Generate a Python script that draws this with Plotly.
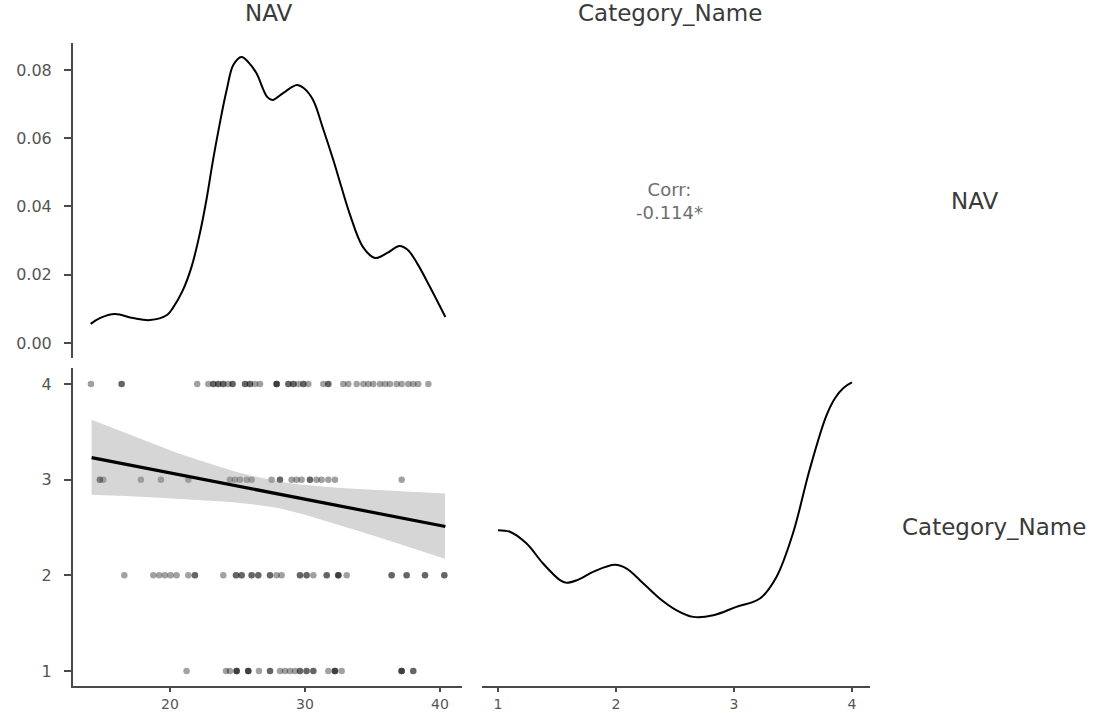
import plotly.graph_objects as go

# ---------------- data ----------------
nav_density_x = [14.13, 14.81, 15.93, 17.26, 18.52, 19.78, 20.22, 20.96, 21.60, 22.22, 22.70, 23.19,
                 23.70, 24.20, 24.70, 25.30, 25.80, 26.40, 27.20, 27.60, 28.40, 29.40, 29.90, 30.60,
                 31.30, 32.10, 32.70, 33.30, 34.30, 35.20, 36.10, 37.00, 37.60, 38.30, 39.26, 40.40]
nav_density_y = [0.0056, 0.0073, 0.0085, 0.0073, 0.0067, 0.0082, 0.0103, 0.0155, 0.0223, 0.0322, 0.0419, 0.0536,
                 0.0645, 0.0741, 0.0815, 0.0838, 0.0823, 0.0791, 0.0721, 0.0712, 0.0733, 0.0756, 0.0747, 0.0712,
                 0.0633, 0.0536, 0.0457, 0.0380, 0.0281, 0.0249, 0.0264, 0.0284, 0.0273, 0.0234, 0.0164, 0.0076]

cat_density_x = [1.00, 1.10, 1.24, 1.38, 1.525, 1.58, 1.67, 1.81, 1.99, 2.09, 2.23, 2.37, 2.51, 2.655,
                 2.825, 3.02, 3.22, 3.36, 3.50, 3.64, 3.78, 3.856, 3.93, 4.00]
cat_density_y = [0.269, 0.266, 0.244, 0.206, 0.174, 0.169, 0.174, 0.190, 0.203, 0.196, 0.168, 0.139, 0.117, 0.104,
                 0.107, 0.123, 0.139, 0.180, 0.263, 0.383, 0.485, 0.520, 0.540, 0.550]

nav_cat4 = [14.15, 16.42, 16.42, 22.02, 22.84, 23.21, 23.21, 23.58, 23.58, 23.95, 23.95, 24.32, 24.64, 24.64,
            25.56, 25.56, 25.93, 25.93, 26.30, 26.67, 27.90, 27.90, 27.90, 28.77, 28.77, 29.14, 29.14, 29.51,
            29.88, 29.88, 30.25, 31.36, 31.73, 31.73, 32.84, 33.21, 33.83, 34.32, 34.69, 35.06, 35.56, 35.93,
            36.30, 36.79, 37.16, 37.65, 38.02, 38.39, 39.14]
nav_cat3 = [14.81, 14.81, 15.06, 17.85, 19.33, 21.36, 24.44, 24.81, 25.19, 25.68, 26.05, 27.53, 28.15, 28.15,
            29.01, 29.38, 29.75, 30.37, 30.37, 30.86, 31.23, 31.73, 32.22, 37.16]
nav_cat2 = [16.62, 18.77, 19.21, 19.63, 20.05, 20.49, 21.36, 21.85, 21.85, 23.95, 24.89, 24.89, 25.31, 25.31,
            26.05, 26.05, 26.54, 26.54, 27.41, 27.41, 27.90, 28.27, 29.63, 29.63, 30.12, 30.12, 30.62, 31.61,
            31.61, 32.47, 32.47, 32.47, 33.09, 36.42, 36.42, 37.53, 37.53, 38.89, 38.89, 40.32, 40.32]
nav_cat1 = [21.23, 24.15, 24.44, 24.94, 24.94, 24.94, 25.80, 25.80, 25.80, 26.59, 27.41, 27.41, 28.15, 28.52,
            28.89, 29.26, 29.63, 29.63, 30.12, 30.12, 30.62, 30.62, 31.73, 32.22, 32.22, 32.22, 32.72,
            37.16, 37.16, 37.16, 38.02, 38.02]
categories = [4, 3, 2, 1]

fit_x = [14.2, 40.4]
fit_y = [3.23, 2.51]
band_upper_x = [14.2, 16.5, 18.52, 20.5, 22.22, 23.6, 24.81, 26.1, 27.41, 28.5, 29.63, 31.0, 32.37, 34.3, 36.30, 38.3, 40.37]
band_upper_y = [3.627, 3.500, 3.387, 3.282, 3.199, 3.138, 3.084, 3.038, 3.000, 2.970, 2.948, 2.930, 2.916, 2.900, 2.885, 2.870, 2.854]
band_lower_x = [14.2, 16.7, 19.26, 21.7, 24.22, 26.1, 27.93, 29.8, 31.63, 33.5, 35.33, 37.9, 40.37]
band_lower_y = [2.843, 2.830, 2.812, 2.795, 2.770, 2.743, 2.707, 2.640, 2.561, 2.483, 2.404, 2.290, 2.174]

corr_text = "Corr:<br>-0.114*"
var_names = ["NAV", "Category_Name"]
nav_ticks = [20, 30, 40]
dens_ticks = [0.00, 0.02, 0.04, 0.06, 0.08]
cat_ticks = [1, 2, 3, 4]

# ---------------- figure ----------------
W, H = 1107, 713
FONT = "DejaVu Sans"
AX = "#4a4a4a"
TICKC = "#555555"

def px2x(p):
    return p / W

def py2y(p):
    return 1 - p / H

fig = go.Figure()

# top-left: NAV density
fig.add_trace(go.Scatter(x=nav_density_x, y=nav_density_y, mode="lines",
                         line=dict(color="black", width=2, shape="spline", smoothing=1.0),
                         xaxis="x", yaxis="y", hoverinfo="skip", showlegend=False))

# bottom-left: scatter
for cat, vals in zip(categories, [nav_cat4, nav_cat3, nav_cat2, nav_cat1]):
    fig.add_trace(go.Scatter(x=vals, y=[cat] * len(vals), mode="markers",
                             marker=dict(color="black", size=6.5, opacity=0.37, line=dict(width=0)),
                             xaxis="x3", yaxis="y3", showlegend=False))

# confidence band
fig.add_trace(go.Scatter(x=band_upper_x + band_lower_x[::-1], y=band_upper_y + band_lower_y[::-1],
                         mode="lines", fill="toself", fillcolor="rgba(153,153,153,0.4)",
                         line=dict(width=0), xaxis="x3", yaxis="y3",
                         hoverinfo="skip", showlegend=False))
fig.add_trace(go.Scatter(x=fit_x, y=fit_y, mode="lines", line=dict(color="black", width=3.2),
                         xaxis="x3", yaxis="y3", showlegend=False))

# bottom-right: Category density
fig.add_trace(go.Scatter(x=cat_density_x, y=cat_density_y, mode="lines",
                         line=dict(color="black", width=2, shape="spline", smoothing=1.0),
                         xaxis="x4", yaxis="y4", hoverinfo="skip", showlegend=False))

left_dom = [px2x(73), px2x(462)]
right_dom = [px2x(482), px2x(870)]
top_dom = [py2y(358), py2y(43)]
bot_dom = [py2y(686), py2y(368)]

nav_range = [12.82, 41.63]
cat_range = [0.864, 4.153]

tickfont = dict(family=FONT, size=16, color=TICKC)
xtickfont = dict(family=FONT, size=14, color=TICKC)
hidden = dict(visible=False, showgrid=False, zeroline=False)
common = dict(automargin=False, showgrid=False, zeroline=False)

fig.update_layout(
    template="none",
    width=W, height=H,
    margin=dict(l=0, r=0, t=0, b=0, pad=0),
    paper_bgcolor="white", plot_bgcolor="white",
    showlegend=False,
    xaxis=dict(domain=left_dom, range=nav_range, anchor="y", **hidden),
    yaxis=dict(domain=top_dom, range=[-0.0044, 0.0879], anchor="x", showline=True, linecolor=AX,
               linewidth=2, ticks="outside", ticklen=7, tickwidth=1.5, tickcolor=AX,
               tickvals=dens_ticks, tickformat=".2f", tickfont=tickfont,
               ticklabelstandoff=9, **common),
    xaxis2=dict(domain=right_dom, range=cat_range, anchor="y2", **hidden),
    yaxis2=dict(domain=top_dom, range=[0, 1], anchor="x2", **hidden),
    xaxis3=dict(domain=left_dom, range=nav_range, anchor="y3", showline=True, linecolor=AX,
                linewidth=2, ticks="outside", ticklen=4, tickwidth=1.5, tickcolor=AX,
                tickvals=nav_ticks, tickfont=xtickfont, ticklabelstandoff=0, **common),
    yaxis3=dict(domain=bot_dom, range=[0.843, 4.167], anchor="x3", showline=True, linecolor=AX,
                linewidth=2, ticks="outside", ticklen=7, tickwidth=1.5, tickcolor=AX,
                tickvals=cat_ticks, tickfont=tickfont, ticklabelstandoff=9, **common),
    xaxis4=dict(domain=right_dom, range=cat_range, anchor="y4", showline=True, linecolor=AX,
                linewidth=2, ticks="outside", ticklen=4, tickwidth=1.5, tickcolor=AX,
                tickvals=cat_ticks, tickfont=xtickfont, ticklabelstandoff=0, **common),
    yaxis4=dict(domain=bot_dom, range=[-0.0275, 0.5775], anchor="x4", **hidden),
)

strip_font = dict(family=FONT, size=23, color="#3a3a3a")
annotations = [
    dict(text=var_names[0], x=px2x(268), y=py2y(13), xref="paper", yref="paper",
         xanchor="center", yanchor="middle", showarrow=False, font=strip_font),
    dict(text=var_names[1], x=px2x(670), y=py2y(13), xref="paper", yref="paper",
         xanchor="center", yanchor="middle", showarrow=False, font=strip_font),
    dict(text=var_names[0], x=px2x(974), y=py2y(201), xref="paper", yref="paper",
         xanchor="center", yanchor="middle", showarrow=False, font=strip_font),
    dict(text=var_names[1], x=px2x(994), y=py2y(527), xref="paper", yref="paper",
         xanchor="center", yanchor="middle", showarrow=False, font=strip_font),
    dict(text=corr_text, x=px2x(669), y=py2y(201), xref="paper", yref="paper",
         xanchor="center", yanchor="middle", showarrow=False, align="center",
         font=dict(family=FONT, size=18, color="#6e6e6e")),
]
fig.update_layout(annotations=annotations)

fig.write_html("out.html", config={"displayModeBar": False},
               post_script="document.body.style.margin='0px';document.body.style.overflow='hidden';")
